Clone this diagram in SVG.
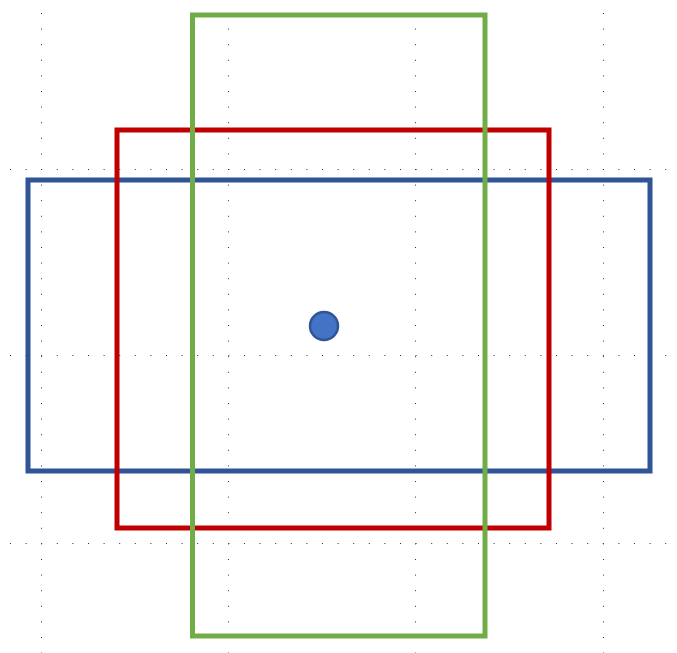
<svg xmlns="http://www.w3.org/2000/svg" width="677" height="653" viewBox="0 0 677 653">
<style>
.grid{stroke:#333;stroke-width:1;stroke-dasharray:1 14.6;fill:none}
.r{fill:none;stroke-width:5}
</style>
<rect width="677" height="653" fill="#fff"/>
<g id="grid">
<line class="grid" x1="10" y1="169.5" x2="670" y2="169.5"/>
<line class="grid" x1="10" y1="355.5" x2="670" y2="355.5"/>
<line class="grid" x1="10" y1="543.5" x2="670" y2="543.5"/>
<line class="grid" x1="41.5" y1="13" x2="41.5" y2="653"/>
<line class="grid" x1="228.5" y1="13" x2="228.5" y2="653"/>
<line class="grid" x1="415.5" y1="13" x2="415.5" y2="653"/>
<line class="grid" x1="603.5" y1="13" x2="603.5" y2="653"/>
</g>
<g id="blue-rect"><rect class="r" x="28" y="180" width="622" height="291" stroke="#2F5597"/></g>
<g id="red-rect"><rect class="r" x="117" y="130" width="432" height="398" stroke="#C00000"/></g>
<g id="green-rect"><rect class="r" x="192.5" y="15" width="292.5" height="621" stroke="#70AD47"/></g>
<g id="center-dot"><circle cx="324" cy="326" r="14" fill="#4472C4" stroke="#2F5597" stroke-width="2.5"/></g>
</svg>
